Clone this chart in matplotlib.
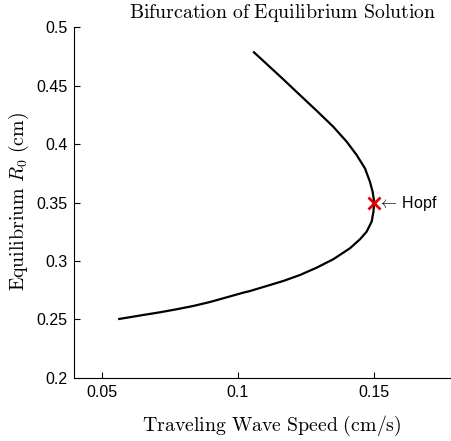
import numpy as np
import matplotlib
matplotlib.use('Agg')
import matplotlib.pyplot as plt

plt.rcParams['font.family'] = ['Liberation Sans', 'DejaVu Sans']
plt.rcParams['mathtext.fontset'] = 'cm'

# Equilibrium branch (speed in cm/s, radius in cm)
speed = [0.05646, 0.06526, 0.07139, 0.07751, 0.08360, 0.08973, 0.09585, 0.10194,
         0.1044, 0.11053, 0.11662, 0.12274, 0.12887, 0.13496, 0.14109, 0.14476,
         0.14721, 0.14905, 0.1497, 0.150, 0.14989, 0.14941, 0.14842, 0.14659,
         0.14354, 0.13988, 0.13496, 0.12887, 0.12274, 0.11662, 0.11053, 0.10587]
radius = [0.2503, 0.2537, 0.2560, 0.2586, 0.2614, 0.2648, 0.2688, 0.2728,
          0.2742, 0.2785, 0.2828, 0.2879, 0.2942, 0.3014, 0.3108, 0.3185,
          0.3250, 0.3336, 0.3419, 0.35, 0.3521, 0.3592, 0.3678, 0.3793,
          0.3907, 0.4021, 0.4149, 0.4286, 0.4420, 0.4555, 0.4686, 0.4786]
hopf_speed = 0.150
hopf_radius = 0.35

xticks = [0.05, 0.1, 0.15]
xticklabels = ['0.05', '0.1', '0.15']
yticks = [0.2, 0.25, 0.3, 0.35, 0.4, 0.45, 0.5]
yticklabels = ['0.2', '0.25', '0.3', '0.35', '0.4', '0.45', '0.5']

fig = plt.figure(figsize=(4.52, 4.41), dpi=100)
ax = fig.add_axes([74.4/452, 1 - 377.7/441, (456 - 74.4)/452, (377.7 - 27.3)/441])

ax.plot(speed, radius, color='black', lw=1.6, solid_joinstyle='round')
ax.plot(hopf_speed, hopf_radius, 'x', color='#e00000', ms=8, mew=2)
ax.text(hopf_speed + 0.0013, hopf_radius - 0.001, r'$\leftarrow\,$Hopf', fontsize=11.5,
        va='center', ha='left')

ax.set_xlim(0.04, 0.18)
ax.set_ylim(0.2, 0.5)
ax.set_xticks(xticks)
ax.set_xticklabels(xticklabels)
ax.set_yticks(yticks)
ax.set_yticklabels(yticklabels)
ax.tick_params(direction='in', length=4, labelsize=11.5, width=0.8, pad=5)
ax.spines['top'].set_visible(False)
ax.spines['right'].set_visible(False)

fig.text(282.5/452, 1 - 13/441, r'$\mathrm{Bifurcation\ of\ Equilibrium\ Solution}$',
         ha='center', va='center', fontsize=14.3)
fig.text(272/452, 1 - 426/441, r'$\mathrm{Traveling\ Wave\ Speed\ (cm/s)}$',
         ha='center', va='center', fontsize=14.3)
fig.text(19/452, 1 - 201/441, r'$\mathrm{Equilibrium}\ R_0\ \mathrm{(cm)}$',
         ha='center', va='center', fontsize=14.3, rotation=90)

fig.savefig('out.png', dpi=100)
